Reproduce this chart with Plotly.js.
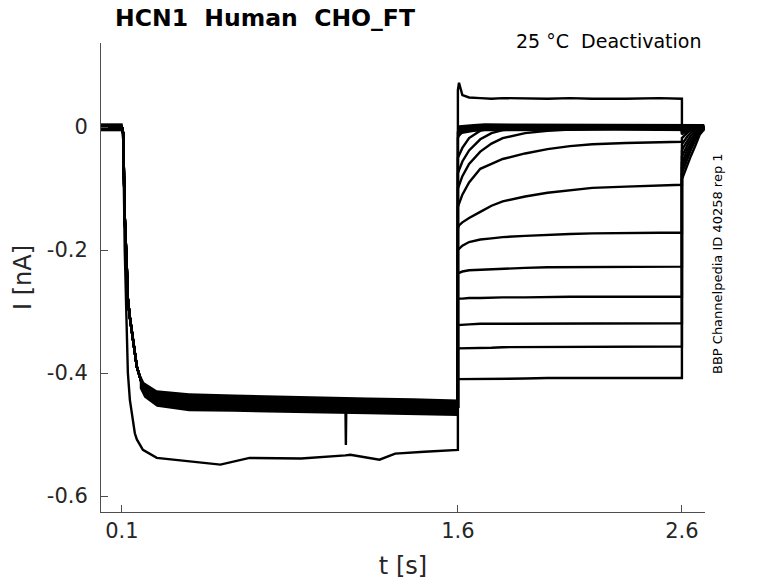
<!DOCTYPE html>
<html>
<head>
<meta charset="utf-8">
<script src="https://cdn.plot.ly/plotly-3.0.1.min.js"></script>
<style>
  html, body { margin: 0; padding: 0; background: #fff; }
  #chart { width: 778px; height: 583px; }
</style>
</head>
<body>
<div id="chart"></div>
<script>
// time bases of the three protocol phases [s]
const tA = [0, 0.1, 0.106, 0.113, 0.122, 0.127, 0.136, 0.145, 0.158, 0.167, 0.194, 0.256, 0.4, 0.54, 0.67, 0.9, 1.098, 1.1, 1.102, 1.12, 1.25, 1.32, 1.45, 1.6];
const tB = [1.6, 1.605, 1.62, 1.65, 1.7, 1.75, 1.8, 1.9, 2.0, 2.1, 2.2, 2.35, 2.5, 2.6];
const tC = [2.6, 2.61, 2.625, 2.64, 2.66, 2.68, 2.7];

// activation step currents [nA]
const bandA  = [0, 0, -0.01, -0.146, -0.227, -0.28, -0.31, -0.335, -0.37, -0.39, -0.423, -0.44, -0.445, -0.447, -0.448, -0.45, -0.451, -0.451, -0.451, -0.451, -0.452, -0.452, -0.454, -0.455];
const spikeA = [0, 0, -0.01, -0.146, -0.227, -0.28, -0.31, -0.335, -0.37, -0.39, -0.423, -0.44, -0.445, -0.447, -0.448, -0.45, -0.451, -0.517, -0.451, -0.451, -0.452, -0.452, -0.454, -0.455];
const lowerA = [0, 0, -0.02, -0.2, -0.33, -0.4, -0.444, -0.47, -0.498, -0.508, -0.525, -0.538, -0.543, -0.549, -0.538, -0.539, -0.534, -0.534, -0.534, -0.533, -0.541, -0.531, -0.528, -0.525];

// noise envelopes of the overlapping records (holding level, activation band, test level near 0)
const tEnvHold  = [0, 0.104];
const envHoldHi = [0.006, 0.006];
const envHoldLo = [-0.007, -0.007];
const tEnv  = [0.18, 0.2, 0.256, 0.4, 0.6, 0.8, 1.0, 1.2, 1.4, 1.6];
const envHi = [-0.4, -0.415, -0.428, -0.433, -0.435, -0.437, -0.438, -0.44, -0.441, -0.443];
const envLo = [-0.425, -0.44, -0.455, -0.462, -0.463, -0.465, -0.466, -0.467, -0.468, -0.47];
const tEnvZero  = [1.605, 1.63, 1.67, 1.72, 2.0, 2.3, 2.7];
const envZeroHi = [0.003, 0.004, 0.005, 0.006, 0.006, 0.006, 0.005];
const envZeroLo = [-0.012, -0.01, -0.008, -0.007, -0.006, -0.006, -0.007];

// which activation record each sweep uses
const sweepA = [lowerA, bandA, bandA, bandA, bandA, bandA, spikeA, bandA, bandA, bandA, bandA, bandA, bandA, bandA];

// test pulse currents (deactivation) [nA]
const testB = [
  [0.06, 0.072, 0.052, 0.048, 0.047, 0.046, 0.047, 0.046, 0.046, 0.047, 0.046, 0.046, 0.047, 0.046],
  [-0.008, -0.004, -0.002, 0, 0, 0.001, 0, 0, 0.001, 0, 0.001, 0, 0.001, 0],
  [-0.018, -0.014, -0.008, -0.004, -0.001, 0, 0, 0.001, 0, 0, 0, 0.001, 0, 0],
  [-0.05, -0.046, -0.034, -0.018, -0.006, -0.002, -0.001, 0, 0, 0, 0, 0, 0, 0],
  [-0.075, -0.07, -0.056, -0.038, -0.02, -0.01, -0.005, -0.002, -0.001, 0, 0, 0, 0, 0],
  [-0.1, -0.095, -0.08, -0.06, -0.04, -0.027, -0.018, -0.01, -0.006, -0.004, -0.003, -0.003, -0.002, -0.002],
  [-0.13, -0.125, -0.11, -0.09, -0.068, -0.06, -0.052, -0.043, -0.036, -0.031, -0.028, -0.026, -0.025, -0.024],
  [-0.165, -0.16, -0.155, -0.148, -0.138, -0.128, -0.121, -0.113, -0.107, -0.103, -0.099, -0.097, -0.095, -0.094],
  [-0.2, -0.198, -0.193, -0.187, -0.183, -0.181, -0.179, -0.177, -0.175, -0.174, -0.173, -0.172, -0.172, -0.172],
  [-0.238, -0.237, -0.235, -0.233, -0.232, -0.231, -0.23, -0.229, -0.228, -0.228, -0.227, -0.227, -0.227, -0.227],
  [-0.28, -0.279, -0.279, -0.278, -0.278, -0.277, -0.277, -0.277, -0.276, -0.276, -0.276, -0.276, -0.276, -0.276],
  [-0.322, -0.322, -0.321, -0.321, -0.32, -0.32, -0.32, -0.32, -0.319, -0.319, -0.319, -0.319, -0.319, -0.319],
  [-0.36, -0.36, -0.36, -0.359, -0.359, -0.359, -0.358, -0.358, -0.358, -0.358, -0.357, -0.357, -0.357, -0.357],
  [-0.41, -0.41, -0.41, -0.41, -0.409, -0.409, -0.409, -0.409, -0.408, -0.408, -0.408, -0.408, -0.408, -0.408]
];

// tail currents after the test pulse [nA]
const tailC = [
  [0, 0, 0, 0, 0, 0, 0],
  [-0.002, -0.001, 0, 0, 0, 0, 0],
  [-0.004, -0.002, -0.001, 0, 0, 0, 0],
  [-0.006, -0.004, -0.002, -0.001, 0, 0, 0],
  [-0.008, -0.006, -0.003, -0.001, 0, 0, 0],
  [-0.012, -0.009, -0.005, -0.002, -0.001, 0, 0],
  [-0.018, -0.014, -0.009, -0.005, -0.002, 0, 0],
  [-0.028, -0.022, -0.015, -0.009, -0.004, -0.001, 0],
  [-0.038, -0.031, -0.022, -0.014, -0.007, -0.002, 0],
  [-0.048, -0.04, -0.029, -0.02, -0.01, -0.004, -0.001],
  [-0.058, -0.049, -0.036, -0.026, -0.014, -0.005, -0.001],
  [-0.066, -0.057, -0.043, -0.031, -0.017, -0.007, -0.002],
  [-0.075, -0.065, -0.05, -0.037, -0.021, -0.009, -0.002],
  [-0.085, -0.075, -0.06, -0.047, -0.03, -0.012, -0.003]
];

const xTicks = [0.1, 1.6, 2.6];
const yTicks = [-0.6, -0.4, -0.2, 0];
const yTickText = ['-0.6', '-0.4', '-0.2', '0'];

const axisGrey = '#4d4d4d';
const textGrey = '#262626';
const font = 'DejaVu Sans, sans-serif';

const traces = [];

// noise envelopes: lower edge first, then fill up to the upper edge
function addEnvelope(t, lo, hi) {
  traces.push({x: t, y: lo, mode: 'lines', line: {width: 0, color: 'black'}, hoverinfo: 'skip'});
  traces.push({x: t, y: hi, mode: 'lines', line: {width: 0, color: 'black'}, fill: 'tonexty', fillcolor: 'black', hoverinfo: 'skip'});
}
addEnvelope(tEnvHold, envHoldLo, envHoldHi);
addEnvelope(tEnv, envLo, envHi);
addEnvelope(tEnvZero, envZeroLo, envZeroHi);

testB.forEach((seg, i) => {
  traces.push({
    x: tA.concat(tB, tC),
    y: sweepA[i].concat(seg, tailC[i]),
    type: 'scatter',
    mode: 'lines',
    line: {color: 'black', width: 2.4},
    hoverinfo: 'skip'
  });
});

const layout = {
  width: 778,
  height: 583,
  margin: {l: 101, r: 73, t: 43, b: 71},
  paper_bgcolor: '#fff',
  plot_bgcolor: '#fff',
  showlegend: false,
  font: {family: font, color: textGrey},
  title: {
    text: '<b>HCN1  Human  CHO_FT</b>',
    font: {family: font, size: 23.5, color: 'black'},
    x: 265 / 778, xref: 'container', xanchor: 'center',
    y: 1 - 18 / 583, yref: 'container', yanchor: 'middle'
  },
  xaxis: {
    range: [0.007, 2.703],
    tickvals: xTicks,
    ticktext: xTicks.map(String),
    ticks: 'inside', ticklen: 7, tickcolor: axisGrey,
    showline: true, linecolor: axisGrey, linewidth: 1,
    showgrid: false, zeroline: false,
    tickfont: {family: font, size: 21, color: textGrey},
    title: {text: 't [s]', font: {family: font, size: 24, color: textGrey}, standoff: 14}
  },
  yaxis: {
    range: [-0.626, 0.1366],
    tickvals: yTicks,
    ticktext: yTickText,
    ticks: 'inside', ticklen: 7, tickcolor: axisGrey,
    showline: true, linecolor: axisGrey, linewidth: 1,
    showgrid: false, zeroline: false,
    ticklabelstandoff: 8,
    tickfont: {family: font, size: 21, color: textGrey},
    title: {text: 'I [nA]', font: {family: font, size: 24, color: textGrey}, standoff: 8}
  },
  annotations: [
    {
      text: '25 °C  Deactivation',
      xref: 'paper', yref: 'paper',
      x: (703 - 101) / 604, y: (512 - 41) / 469,
      xanchor: 'right', yanchor: 'middle',
      showarrow: false,
      font: {family: font, size: 19, color: 'black'}
    },
    {
      text: 'BBP Channelpedia ID 40258 rep 1',
      xref: 'paper', yref: 'paper',
      x: (717 - 101) / 604, y: (512 - 264) / 469,
      xanchor: 'center', yanchor: 'middle',
      textangle: -90,
      showarrow: false,
      font: {family: font, size: 13, color: 'black'}
    }
  ]
};

Plotly.newPlot('chart', traces, layout, {displayModeBar: false, staticPlot: true});
</script>
</body>
</html>
